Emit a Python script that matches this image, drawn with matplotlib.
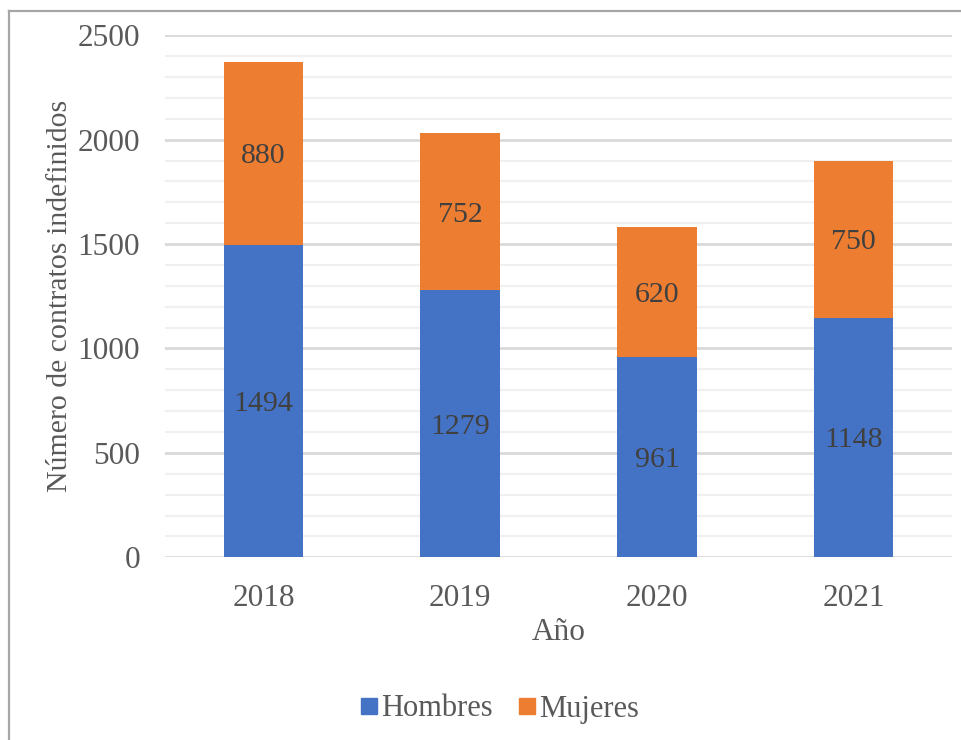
import matplotlib
matplotlib.use("Agg")
import matplotlib.pyplot as plt
from matplotlib.lines import Line2D
from matplotlib.ticker import MultipleLocator
import numpy as np

years = ["2018", "2019", "2020", "2021"]
hombres = [1494, 1279, 961, 1148]
mujeres = [880, 752, 620, 750]

blue = "#4472C4"
orange = "#ED7D31"
text_col = "#595959"
label_col = "#404040"

plt.rcParams["font.family"] = ["Liberation Serif", "DejaVu Serif"]

fig = plt.figure(figsize=(9.62, 7.4), dpi=100)
ax = fig.add_axes([165 / 962, 1 - 557.3 / 740, (952 - 165) / 962, (557.3 - 35.3) / 740])

x = np.arange(len(years))
w = 0.405
ax.bar(x, hombres, w, color=blue, zorder=3, label="Hombres")
ax.bar(x, mujeres, w, bottom=hombres, color=orange, zorder=3, label="Mujeres")

for xi, h, m in zip(x, hombres, mujeres):
    ax.text(xi, h / 2, str(h), ha="center", va="center_baseline", fontsize=21.5, color=label_col, zorder=4)
    ax.text(xi, h + m / 2, str(m), ha="center", va="center_baseline", fontsize=21.5, color=label_col, zorder=4)

ax.set_xlim(-0.5, len(years) - 0.5)
ax.set_ylim(0, 2500)
ax.yaxis.set_major_locator(MultipleLocator(500))
ax.yaxis.set_minor_locator(MultipleLocator(100))
ax.grid(axis="y", which="major", color="#D9D9D9", linewidth=2.0, zorder=0)
ax.grid(axis="y", which="minor", color="#F0F0F0", linewidth=1.6, zorder=0)
ax.set_xticks(x)
ax.set_xticklabels(years)
ax.tick_params(axis="both", which="both", length=0, labelsize=22.5, labelcolor=text_col)
ax.tick_params(axis="x", pad=19)
ax.tick_params(axis="y", pad=18)
for s in ax.spines.values():
    s.set_visible(False)

ax.set_xlabel("Año", fontsize=22.5, color=text_col, labelpad=4)
ax.set_ylabel("Número de contratos indefinidos", fontsize=21.5, color=text_col, labelpad=3)

handles = [Line2D([], [], marker="s", linestyle="none", markersize=11, color=blue),
           Line2D([], [], marker="s", linestyle="none", markersize=11, color=orange)]
fig.legend(handles, ["Hombres", "Mujeres"], loc="center", bbox_to_anchor=(498 / 962, 1 - 709 / 740),
           ncol=2, frameon=False, fontsize=22, labelcolor=text_col, handletextpad=0.0,
           columnspacing=0.7, handlelength=0.8)

# frame lines along top and left edges of the figure
fig.add_artist(Line2D([9 / 962, 1.0], [1 - 11 / 740, 1 - 11 / 740], color="#A6A6A6", linewidth=1.6,
                      transform=fig.transFigure))
fig.add_artist(Line2D([9 / 962, 9 / 962], [0, 1 - 11 / 740], color="#A6A6A6", linewidth=1.6,
                      transform=fig.transFigure))

fig.savefig("out.png", dpi=100)
